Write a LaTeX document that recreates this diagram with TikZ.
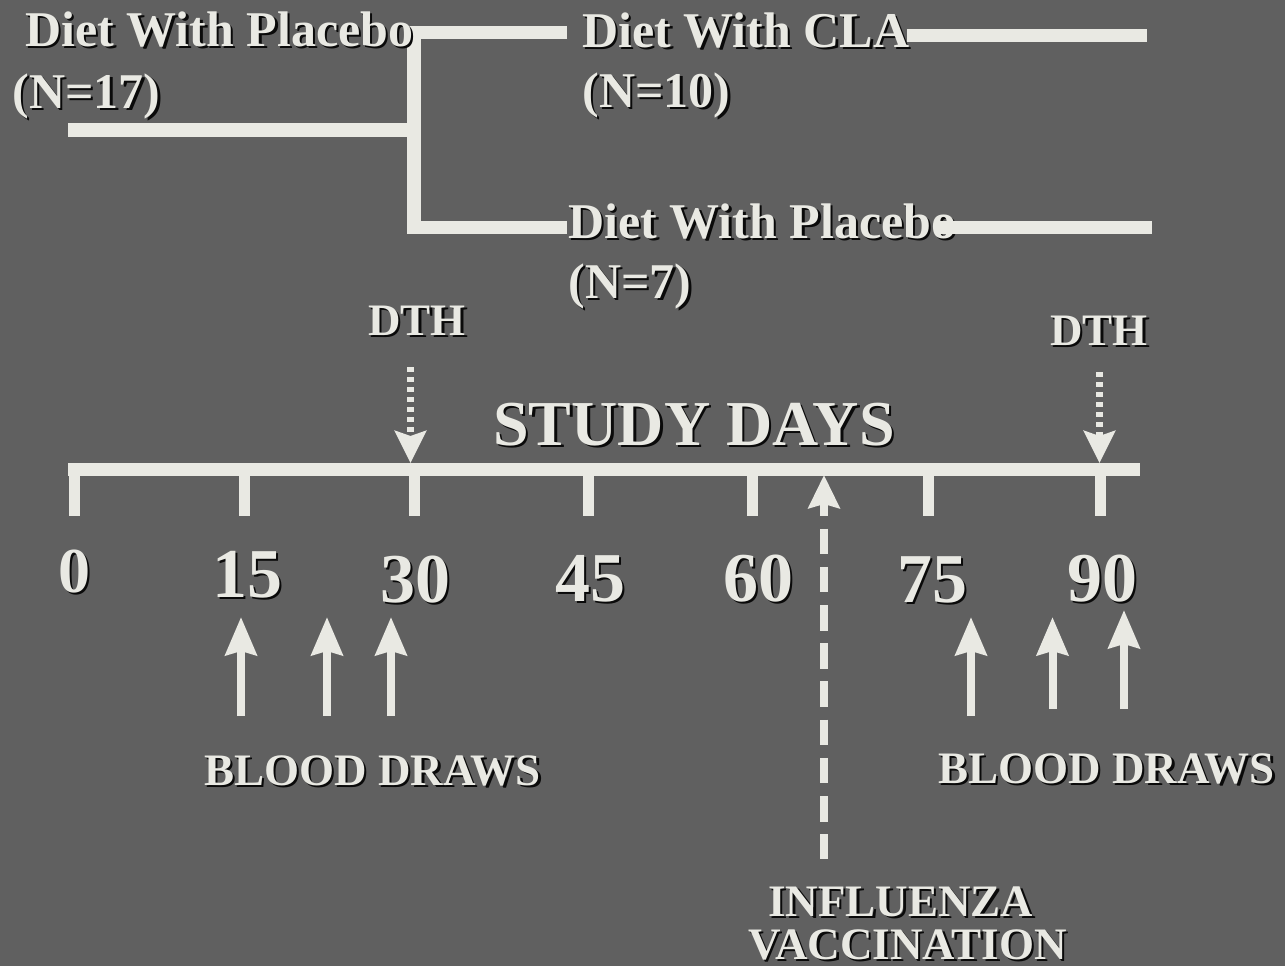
\documentclass[tikz,border=0pt]{standalone}
\usepackage{fontspec}
\setmainfont{Liberation Serif}
\usepackage{xcolor}
\usetikzlibrary{arrows.meta}
\definecolor{slate}{RGB}{96,96,96}
\definecolor{chalk}{RGB}{233,233,227}
\definecolor{shade}{RGB}{10,10,10}
% text with a small dark drop shadow
\newcommand{\shd}[1]{\rlap{\kern1.2pt\raisebox{-1.2pt}{\color{shade}#1}}#1}

\begin{document}
\begin{tikzpicture}[x=0.5pt,y=-0.5pt,
    txt/.style={inner sep=0pt, anchor=base west, text=chalk, font=\bfseries},
    dietlbl/.style={txt, font=\bfseries\fontsize{25}{30}\selectfont},
    notelbl/.style={txt, font=\bfseries\fontsize{22.5}{27}\selectfont},
    titlelbl/.style={txt, font=\bfseries\fontsize{32}{38}\selectfont},
    branch/.style={draw=chalk, line width=6.75pt, line cap=butt, line join=miter},
    tick/.style={draw=chalk, line width=5.5pt},
    drawarrow/.style={draw=chalk, line width=4pt, -{Stealth[length=19pt, width=15.5pt, inset=2pt]}},
    dtharrow/.style={draw=chalk, line width=3.5pt, dash pattern=on 2.6pt off 2.4pt,
      -{Stealth[length=16pt, width=15.5pt, inset=2.5pt]}},
    vaccline/.style={draw=chalk, line width=4pt, dash pattern=on 12.8pt off 6.3pt, dash phase=5.8pt,
      {Stealth[length=16.5pt, width=15.5pt, inset=2pt]}-}]
    \fill[slate] (0,0) rectangle (1285,966);
    \useasboundingbox (0,0) rectangle (1285,966);

    % Randomisation
    \coordinate (root) at (68,130);
    \coordinate (fork) at (414,130);
    \coordinate (forktop) at (414,32.5);
    \coordinate (forkbot) at (414,227.5);
    \coordinate (claend) at (567,32.5);
    \coordinate (plcend) at (567,227.5);
    \draw[branch] (root) -- (fork);
    \draw[branch] (claend) -- (forktop) -- (forkbot) -- (plcend);

    % Groups
    \node[dietlbl] (plc0) at (25,46) {\shd{Diet With Placebo}};
    \node[dietlbl] (plc0n) at (12,108) {\shd{(N=17)}};
    \node[dietlbl] (cla) at (582,47) {\shd{Diet With CLA}};
    \node[dietlbl] (clan) at (582,107) {\shd{(N=10)}};
    \node[dietlbl] (plc) at (568,238) {\shd{Diet With Placebo}};
    \node[dietlbl] (plcn) at (568,298) {\shd{(N=7)}};

    \coordinate (clatail) at (907,35.5);
    \coordinate (clastop) at (1147,35.5);
    \coordinate (plctail) at (939,227.5);
    \coordinate (plcstop) at (1152,227.5);
    \draw[branch] (clatail) -- (clastop);
    \draw[branch] (plctail) -- (plcstop);

    % Time axis
    \node[titlelbl] (title) at (493,445) {\shd{STUDY DAYS}};
    \coordinate (axstart) at (68,469.5);
    \coordinate (axend) at (1140,469.5);
    \draw[branch] (axstart) -- (axend);
    \foreach \d/\x/\lx/\by/\fs in {0/74/74.5/592/32, 15/244.5/247/597/35, 30/414.5/415.5/602/35,
        45/588.5/590/601/35, 60/752.5/758/601/35, 75/928.5/932/602/35, 90/1100.5/1102/601/35} {
      \coordinate (day\d) at (\x,469.5);
      \coordinate (tick\d) at (\x,516);
      \draw[tick] (day\d) -- (tick\d);
      \node[txt, anchor=base, font=\bfseries\fontsize{\fs}{\fs}\selectfont] (lbl\d) at (\lx,\by) {\shd{\d}};
    }

    % DTH
    \node[notelbl] (dth1) at (368,335) {\shd{DTH}};
    \node[notelbl] (dth2) at (1050,345) {\shd{DTH}};
    \coordinate (dth1s) at (410.5,367);
    \coordinate (dth1e) at (410.5,463);
    \coordinate (dth2s) at (1099.5,372);
    \coordinate (dth2e) at (1099.5,463);
    \draw[dtharrow] (dth1s) -- (dth1e);
    \draw[dtharrow] (dth2s) -- (dth2e);

    % Blood draws
    \foreach \i/\x/\yb/\yt in {1/241/716/617, 2/327/716/617, 3/391/716/617,
        4/971/716/617, 5/1052.5/709/617, 6/1124/709/610} {
      \coordinate (bd\i s) at (\x,\yb);
      \coordinate (bd\i e) at (\x,\yt);
      \draw[drawarrow] (bd\i s) -- (bd\i e);
    }
    \node[notelbl] (blood1) at (204,785) {\shd{BLOOD DRAWS}};
    \node[notelbl] (blood2) at (938,783) {\shd{BLOOD DRAWS}};

    % Vaccination
    \coordinate (vtip) at (824,475);
    \coordinate (vfoot) at (824,859);
    \draw[vaccline] (vtip) -- (vfoot);
    \node[notelbl] (flu) at (768,916) {\shd{INFLUENZA}};
    \node[notelbl] (vacc) at (748,959) {\shd{VACCINATION}};
\end{tikzpicture}
\end{document}
